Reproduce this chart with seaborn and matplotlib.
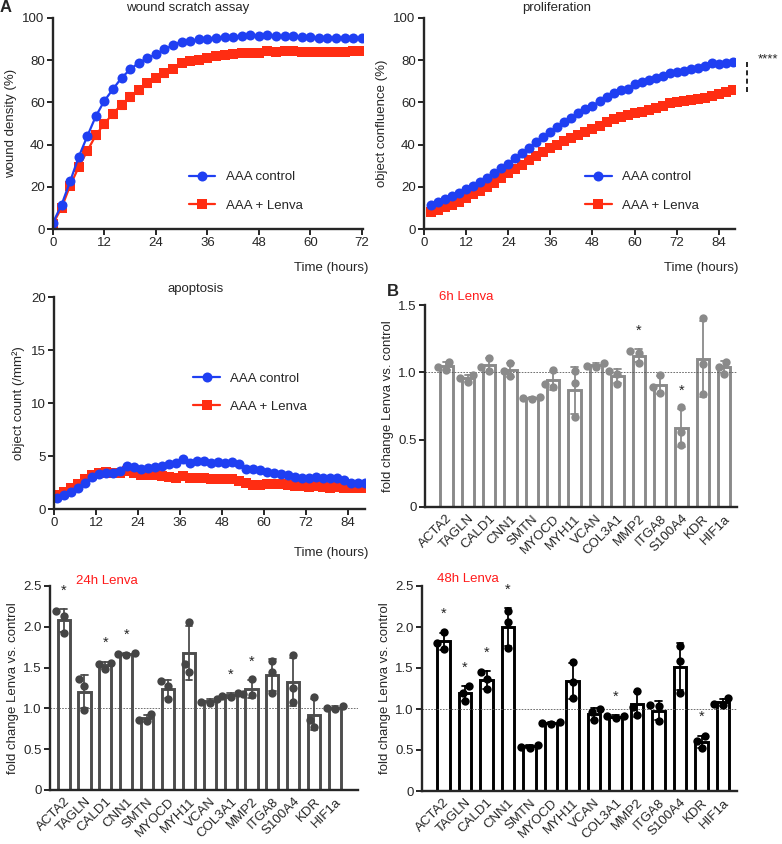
import numpy as np
import pandas as pd
import matplotlib
matplotlib.use("Agg")
import matplotlib.pyplot as plt
import seaborn as sns

sns.set_style("ticks")
plt.rcParams["font.family"] = ["Liberation Sans", "DejaVu Sans"]
plt.rcParams["font.size"] = 9

BLUE = "#1f3ff2"
RED = "#ff2d12"

# ---- panel A data ----
wound_t = list(range(0, 74, 2))
wound_ctrl = [3, 11.5, 22.6, 34.2, 44, 53.5, 60.8, 66.3, 71.7, 75.6, 78.8, 80.9, 82.9, 85.1,
              87.2, 88.8, 89.1, 89.9, 90.2, 90.7, 90.8, 91.1, 91.6, 91.8, 91.6, 91.8, 91.3,
              91.5, 91.5, 91.0, 90.8, 90.7, 90.7, 90.7, 90.7, 90.7, 90.5]
wound_lenva = [2.5, 10.1, 20.6, 29.4, 37, 44.5, 50, 54.7, 59, 62.7, 65.8, 69.3, 71.7, 73.7,
               76, 78.8, 79.6, 80, 80.9, 82, 82.4, 82.9, 83.2, 83.5, 83.5, 84.2, 84, 84.3,
               84.3, 84, 84, 84, 84, 84, 84, 84.3, 84.2]
wound_lenva_sem = [0.5, 0.8, 1.2, 1.5, 2, 2, 2, 2, 2, 2, 1.8, 1.8, 1.6, 1.5, 1.5, 1.3, 1.2,
                   1.1, 1, 1, 1, 0.9, 0.9, 0.8, 0.8, 0.8, 0.8, 0.7, 0.7, 0.7, 0.7, 0.7, 0.7,
                   0.7, 0.7, 0.7, 0.7]

prolif_t = list(range(2, 90, 2))
prolif_ctrl = [11.5, 12.8, 14.3, 15.8, 17.2, 18.8, 20.5, 22.3, 24.2, 26.5, 28.8, 31, 33.5, 36,
               38.5, 41, 43.5, 46, 48.5, 50.5, 52.5, 55, 57, 58.5, 60.5, 62.5, 64.5, 65.8,
               66.5, 68.8, 69.5, 70.5, 71.5, 72.5, 73.8, 74.5, 75, 75.8, 76.5, 77.2, 78.5,
               78.3, 78.5, 79]
prolif_lenva = [8, 9, 10.2, 11.5, 13, 14.8, 16.5, 18, 19.8, 21.8, 24, 26.5, 28.5, 30.5, 32.5,
                34.5, 36.5, 38.5, 40, 41.5, 43, 44.5, 46, 47.5, 49, 50.5, 52, 53, 54, 55,
                55.5, 56.5, 57.5, 58.5, 59.5, 60, 60.5, 61, 61.5, 62, 63, 64, 64.8, 66]

apop_t = list(range(1, 90, 2))
apop_ctrl = [1.0, 1.3, 1.6, 2.0, 2.5, 3.0, 3.3, 3.4, 3.4, 3.6, 4.1, 4.0, 3.8, 3.9, 4.0, 4.1,
             4.2, 4.3, 4.7, 4.3, 4.5, 4.5, 4.3, 4.4, 4.3, 4.4, 4.2, 3.8, 3.8, 3.7, 3.5, 3.4,
             3.3, 3.2, 3.0, 2.9, 2.9, 3.0, 2.9, 2.9, 2.9, 2.7, 2.5, 2.5, 2.5]
apop_lenva = [1.3, 1.6, 2.0, 2.4, 2.8, 3.2, 3.4, 3.5, 3.4, 3.4, 3.6, 3.4, 3.2, 3.2, 3.2, 3.1,
              3.0, 2.9, 3.1, 2.9, 2.9, 2.9, 2.8, 2.8, 2.8, 2.8, 2.6, 2.5, 2.3, 2.3, 2.4, 2.4,
              2.4, 2.3, 2.2, 2.2, 2.1, 2.2, 2.1, 2.0, 2.1, 2.0, 2.0, 2.0, 2.0]

# ---- panel B data (3 replicates per gene) ----
genes = ["ACTA2", "TAGLN", "CALD1", "CNN1", "SMTN", "MYOCD", "MYH11", "VCAN", "COL3A1",
         "MMP2", "ITGA8", "S100A4", "KDR", "HIF1a"]
fc_6h = [[1.08, 1.02, 1.04], [0.98, 0.96, 0.93], [1.11, 1.04, 1.01], [1.07, 1.01, 0.97],
         [0.82, 0.81, 0.80], [1.02, 0.91, 0.89], [1.01, 0.92, 0.67], [1.07, 1.05, 1.04],
         [1.01, 0.99, 0.91], [1.16, 1.14, 1.07], [0.98, 0.89, 0.85], [0.74, 0.56, 0.46],
         [1.40, 1.06, 0.84], [1.08, 1.04, 0.99]]
fc_24h = [[2.19, 2.13, 1.92], [1.36, 1.28, 0.98], [1.56, 1.55, 1.48], [1.68, 1.67, 1.66],
          [0.93, 0.86, 0.84], [1.33, 1.27, 1.12], [2.06, 1.54, 1.45], [1.12, 1.08, 1.07],
          [1.19, 1.15, 1.14], [1.36, 1.18, 1.16], [1.58, 1.45, 1.19], [1.65, 1.25, 1.08],
          [1.14, 0.86, 0.77], [1.03, 1.00, 0.99]]
fc_48h = [[1.94, 1.80, 1.73], [1.28, 1.20, 1.10], [1.45, 1.37, 1.24], [2.19, 2.06, 1.75],
          [0.56, 0.54, 0.53], [0.84, 0.83, 0.82], [1.57, 1.33, 1.13], [1.00, 0.96, 0.86],
          [0.92, 0.91, 0.89], [1.22, 1.02, 0.93], [1.05, 1.04, 0.85], [1.77, 1.58, 1.20],
          [0.67, 0.61, 0.52], [1.13, 1.06, 1.05]]
sig_6h = ["MMP2", "S100A4"]
sig_24h = ["ACTA2", "CALD1", "CNN1", "COL3A1", "MMP2"]
sig_48h = ["ACTA2", "TAGLN", "CALD1", "CNN1", "COL3A1", "KDR"]

W, H = 782, 844
fig = plt.figure(figsize=(W / 100, H / 100), dpi=100)


def px_axes(l, t, r, b):
    return fig.add_axes([l / W, 1 - b / H, (r - l) / W, (b - t) / H])


def ftext(x, y, s, **kw):
    fig.text(x / W, 1 - y / H, s, **kw)


def style(ax):
    sns.despine(ax=ax)
    for s in ["left", "bottom"]:
        ax.spines[s].set_linewidth(1.7)
    ax.tick_params(width=1.4, length=4, labelsize=9.5, pad=2)


def line_panel(ax, t, ctrl, lenva, leg_xy, sem=None):
    sns.lineplot(x=t, y=lenva, ax=ax, color=RED, marker="s", markersize=6.5,
                 markeredgewidth=0, lw=1.6, label="AAA + Lenva")
    if sem is not None:
        ax.errorbar(t, lenva, yerr=sem, fmt="none", ecolor=RED, elinewidth=0.8,
                    capsize=2, capthick=0.8)
    sns.lineplot(x=t, y=ctrl, ax=ax, color=BLUE, marker="o", markersize=7.2,
                 markeredgewidth=0, lw=1.6, label="AAA control")
    h, lab = ax.get_legend_handles_labels()
    ax.legend(h[::-1], lab[::-1], frameon=False, loc="upper left", bbox_to_anchor=leg_xy,
              handlelength=2.0, handletextpad=0.8, labelspacing=1.2, fontsize=9.5)
    ax.set_xlabel("")
    style(ax)


# ---- wound scratch ----
ax1 = px_axes(53, 18, 363, 229)
line_panel(ax1, wound_t, wound_ctrl, wound_lenva, (0.40, 0.33), wound_lenva_sem)
ax1.set_xlim(0, 72.3)
ax1.set_ylim(0, 100)
ax1.set_xticks(range(0, 73, 12))
ax1.set_yticks(range(0, 101, 20))
ax1.set_ylabel("wound density (%)", fontsize=9.5, labelpad=4)

# ---- proliferation ----
ax2 = px_axes(424, 18, 735, 229)
line_panel(ax2, prolif_t, prolif_ctrl, prolif_lenva, (0.48, 0.33))
ax2.set_xlim(0, 88.6)
ax2.set_ylim(0, 100)
ax2.set_xticks(range(0, 85, 12))
ax2.set_yticks(range(0, 101, 20))
ax2.set_ylabel("object confluence (%)", fontsize=9.5, labelpad=4)
ax2.plot([92, 92], [prolif_ctrl[-1], prolif_lenva[-1] - 2], color="black", lw=1.2,
         ls=(0, (3, 2)), clip_on=False)
ax2.text(95, prolif_ctrl[-1] + 1.5, "****", fontsize=9.5, ha="left", va="center",
         clip_on=False)

# ---- apoptosis ----
ax3 = px_axes(54, 297, 365, 509)
line_panel(ax3, apop_t, apop_ctrl, apop_lenva, (0.41, 0.70))
ax3.set_xlim(0, 88.9)
ax3.set_ylim(0, 20)
ax3.set_xticks(range(0, 85, 12))
ax3.set_yticks(range(0, 21, 5))
ax3.set_ylabel("object count (/mm²)", fontsize=9.5, labelpad=4)


# ---- bar panels ----
def bar_panel(ax, vals, col, ptcol, ymax, yticks, yticklabels, sig, xlim):
    df = pd.DataFrame({"gene": np.repeat(genes, 3), "fc": np.ravel(vals)})
    sns.barplot(data=df, x="gene", y="fc", order=genes, errorbar="sd", capsize=0.3,
                fill=False, color=col, width=0.58, linewidth=2.1,
                err_kws={"linewidth": 1.3, "color": col}, ax=ax)
    sns.swarmplot(data=df, x="gene", y="fc", order=genes, color=ptcol, size=6, ax=ax,
                  zorder=3)
    ax.axhline(1.0, color="0.35", ls=(0, (2, 1.5)), lw=0.6, zorder=1)
    st = df.groupby("gene")["fc"].agg(["mean", "std"])
    for g in sig:
        i = genes.index(g)
        y = st.loc[g, "mean"] + st.loc[g, "std"] + 0.09 * ymax
        ax.text(i, y, "*", ha="center", va="center", fontsize=10.5)
    ax.set_xlim(*xlim)
    ax.set_ylim(0, ymax)
    ax.set_yticks(yticks)
    ax.set_yticklabels(yticklabels)
    ax.set_xlabel("")
    ax.set_ylabel("fold change Lenva vs. control", fontsize=9.5, labelpad=3)
    style(ax)
    ax.tick_params(axis="x", length=0, pad=4)
    plt.setp(ax.get_xticklabels(), rotation=45, ha="right", rotation_mode="anchor",
             fontsize=9.5)


ax4 = px_axes(425, 305, 737, 507)
bar_panel(ax4, fc_6h, "#8a8a8a", "#8a8a8a", 1.5, [0, 0.5, 1.0, 1.5],
          ["0", "0.5", "1.0", "1.5"], sig_6h, (-1.0, 13.6))

ax5 = px_axes(50, 586, 358, 790)
bar_panel(ax5, fc_24h, "#4d4d4d", "#454545", 2.5, [0, 0.5, 1.0, 1.5, 2.0, 2.5],
          ["0", "0.5", "1.0", "1.5", "2.0", "2.5"], sig_24h, (-0.65, 14.1))

ax6 = px_axes(422, 586, 737, 791)
bar_panel(ax6, fc_48h, "black", "black", 2.5, [0, 0.5, 1.0, 1.5, 2.0, 2.5],
          ["0", "0.5", "1.0", "1.5", "2.0", "2.5"], sig_48h, (-1.0, 13.65))

# ---- texts ----
ftext(188, 8, "wound scratch assay", ha="center", va="center", fontsize=9.5)
ftext(557, 8, "proliferation", ha="center", va="center", fontsize=9.5)
ftext(196, 289, "apoptosis", ha="center", va="center", fontsize=9.5)
ftext(368, 268, "Time (hours)", ha="right", va="center", fontsize=9.5)
ftext(738, 268, "Time (hours)", ha="right", va="center", fontsize=9.5)
ftext(368, 553, "Time (hours)", ha="right", va="center", fontsize=9.5)
ftext(439, 297, "6h Lenva", ha="left", va="center", fontsize=9.5, color="#ff1a1a")
ftext(76, 581, "24h Lenva", ha="left", va="center", fontsize=9.5, color="#ff1a1a")
ftext(437, 579, "48h Lenva", ha="left", va="center", fontsize=9.5, color="#ff1a1a")
ftext(0, 8, "A", ha="left", va="center", fontsize=12, fontweight="bold")
ftext(387, 291, "B", ha="left", va="center", fontsize=12, fontweight="bold")

fig.savefig("out.png", dpi=100)
